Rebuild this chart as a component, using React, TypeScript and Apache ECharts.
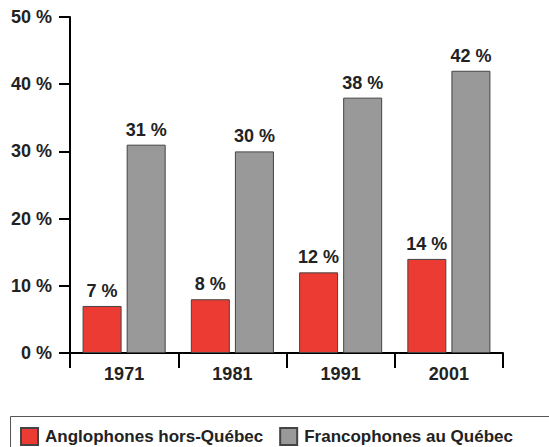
import React, { useEffect, useRef } from "react";
import * as echarts from "echarts";

const categories = ["1971", "1981", "1991", "2001"];
const anglophones = [7, 8, 12, 14];
const francophones = [31, 30, 38, 42];
const seriesNames = ["Anglophones hors-Québec", "Francophones au Québec"];

const FONT = '"Liberation Sans", Arial, Helvetica, sans-serif';

export default function App() {
  const ref = useRef<HTMLDivElement>(null);
  useEffect(() => {
    const chart = echarts.init(ref.current!, null, { renderer: "svg" });
    const label = {
      show: true,
      position: "top",
      distance: 6,
      formatter: (p: any) => `${p.value} %`,
      fontFamily: FONT,
      fontWeight: "bold",
      fontSize: 18,
      color: "#222",
    };
    chart.setOption({
      animation: false,
      backgroundColor: "#fff",
      grid: { left: 70, right: 46, top: 17, bottom: 94, containLabel: false },
      legend: {
        left: 15,
        top: 422,
        itemWidth: 17,
        itemHeight: 17,
        itemGap: 16,
        icon: "rect",
        textStyle: {
          fontFamily: FONT,
          fontWeight: "bold",
          fontSize: 17,
          color: "#222",
          padding: [0, 0, 0, 2],
        },
        data: seriesNames,
      },
      xAxis: {
        type: "category",
        data: categories,
        axisLine: { lineStyle: { color: "#000", width: 2 } },
        axisTick: { show: true, length: 15, lineStyle: { color: "#000", width: 2 }, alignWithLabel: false },
        axisLabel: { fontFamily: FONT, fontWeight: "bold", fontSize: 18, color: "#222", margin: 12 },
      },
      yAxis: {
        type: "value",
        min: 0,
        max: 50,
        interval: 10,
        splitLine: { show: false },
        axisLine: { show: true, lineStyle: { color: "#000", width: 2 } },
        axisTick: { show: true, length: 11, lineStyle: { color: "#000", width: 2 } },
        axisLabel: {
          fontFamily: FONT,
          fontWeight: "bold",
          fontSize: 18,
          color: "#222",
          margin: 18,
          formatter: (v: number) => `${v} %`,
        },
      },
      series: [
        {
          name: seriesNames[0],
          type: "bar",
          data: anglophones,
          barWidth: 39,
          barGap: "13%",
          itemStyle: { color: "#ec3b32", borderColor: "#444", borderWidth: 1 },
          label,
        },
        {
          name: seriesNames[1],
          type: "bar",
          data: francophones,
          barWidth: 39,
          barGap: "13%",
          itemStyle: { color: "#999999", borderColor: "#444", borderWidth: 1 },
          label,
        },
      ],
      graphic: [
        {
          type: "rect",
          left: 8,
          top: 414,
          shape: { width: 560, height: 50 },
          style: { fill: "none", stroke: "#555", lineWidth: 1 },
          z: -1,
        },
      ],
    });
    return () => chart.dispose();
  }, []);
  return <div ref={ref} style={{ width: 549, height: 447, position: "absolute", left: 0, top: 0 }} />;
}
